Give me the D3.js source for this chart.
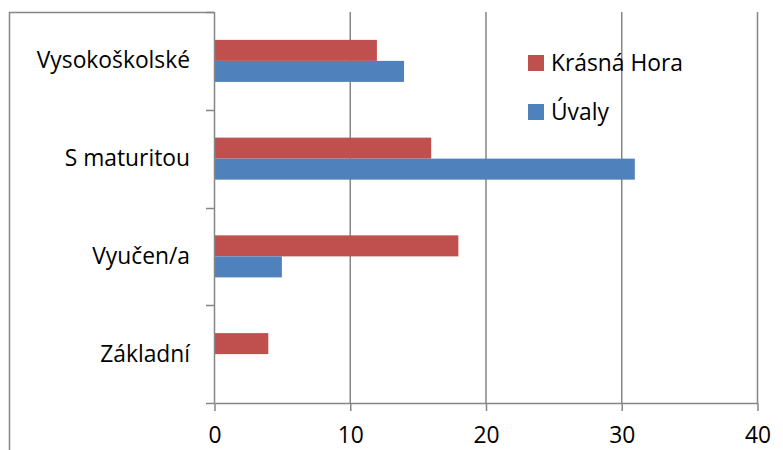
<!DOCTYPE html>
<html>
<head>
<meta charset="utf-8">
<script src="https://cdn.jsdelivr.net/npm/d3@7"></script>
<style>
  body { margin: 0; background: #fff; }
  text { font-family: "Open Sans", "Noto Sans", sans-serif; fill: #000; }
</style>
</head>
<body>
<div id="chart"></div>
<script>
// Data
const categories = ['Vysokoškolské', 'S maturitou', 'Vyučen/a', 'Základní']
const seriesNames = ['Krásná Hora', 'Úvaly']
const krasnaHora = [12, 16, 18, 4]
const uvaly = [14, 31, 5, 0]
const xTicks = [0, 10, 20, 30, 40]
const seriesColors = ['#C0504D', '#4F81BD']

function draw() {
  const dimensions = {
    width: 783,
    height: 450,
    left: 214,
    top: 12,
    right: 757,
    bottom: 403,
  }
  const fontSize = '22.8px'

  const svg = d3.select('#chart')
    .append('svg')
    .attr('width', dimensions.width)
    .attr('height', dimensions.height)

  // outer chart frame (only left + top part visible)
  svg.append('path')
    .attr('d', `M9.5,460 V12.5 H${dimensions.left}`)
    .attr('fill', 'none')
    .attr('stroke', '#868686')
    .attr('stroke-width', 1.5)

  // Scales
  const xScale = d3.scaleLinear()
    .domain([0, 40])
    .range([dimensions.left, dimensions.right])

  const yScale = d3.scaleBand()
    .domain(categories)
    .range([dimensions.top, dimensions.bottom])
    .paddingInner(0.57)
    .paddingOuter(0.285)

  const inner = d3.scaleBand()
    .domain(seriesNames)
    .range([0, yScale.bandwidth()])

  // gridlines
  svg.append('g')
    .selectAll('line')
    .data(xTicks.slice(1))
    .join('line')
    .attr('x1', d => xScale(d) + 0.5)
    .attr('x2', d => xScale(d) + 0.5)
    .attr('y1', dimensions.top)
    .attr('y2', dimensions.bottom)
    .attr('stroke', '#868686')
    .attr('stroke-width', 1.5)

  // bars
  const rows = categories.map((c, i) => ({ name: c, values: [krasnaHora[i], uvaly[i]] }))
  const groups = svg.append('g')
    .selectAll('g')
    .data(rows)
    .join('g')
    .attr('transform', d => `translate(0,${yScale(d.name)})`)

  groups.selectAll('rect')
    .data(d => d.values.map((v, j) => ({ series: seriesNames[j], value: v, color: seriesColors[j] })))
    .join('rect')
    .attr('x', xScale(0))
    .attr('y', d => inner(d.series))
    .attr('width', d => xScale(d.value) - xScale(0))
    .attr('height', inner.bandwidth())
    .attr('fill', d => d.color)

  // x axis
  const xAxis = d3.axisBottom(xScale)
    .tickValues(xTicks)
    .tickSize(8)
    .tickSizeOuter(0)
    .tickPadding(16)
  const xg = svg.append('g')
    .attr('transform', `translate(0.5,${dimensions.bottom})`)
    .call(xAxis)
  xg.select('.domain').attr('stroke', '#868686').attr('stroke-width', 1.5)
  xg.selectAll('.tick line').attr('stroke', '#868686').attr('stroke-width', 1.5)
  xg.selectAll('.tick text').style('font-size', fontSize).attr('fill', '#000')

  // y axis
  const yEdges = categories.map(c => yScale(c) - yScale.step() * yScale.paddingInner() / 2)
  yEdges.push(dimensions.bottom)
  const yg = svg.append('g')
  yg.append('line')
    .attr('x1', dimensions.left + 0.5)
    .attr('x2', dimensions.left + 0.5)
    .attr('y1', dimensions.top)
    .attr('y2', dimensions.bottom)
    .attr('stroke', '#868686')
    .attr('stroke-width', 1.5)
  yg.selectAll('.ytick')
    .data(yEdges)
    .join('line')
    .attr('class', 'ytick')
    .attr('x1', dimensions.left - 8)
    .attr('x2', dimensions.left)
    .attr('y1', d => Math.round(d) + 0.5)
    .attr('y2', d => Math.round(d) + 0.5)
    .attr('stroke', '#868686')
    .attr('stroke-width', 1.5)
  yg.selectAll('text')
    .data(categories)
    .join('text')
    .attr('x', dimensions.left - 24)
    .attr('y', d => yScale(d) + yScale.bandwidth() / 2 + 7.5)
    .attr('text-anchor', 'end')
    .style('font-size', fontSize)
    .text(d => d)

  // legend
  const legend = svg.append('g')
    .attr('transform', 'translate(528,55)')
  const items = legend.selectAll('g')
    .data(seriesNames)
    .join('g')
    .attr('transform', (d, i) => `translate(0,${i * 49})`)
  items.append('rect')
    .attr('width', 16)
    .attr('height', 16)
    .attr('fill', (d, i) => seriesColors[i])
  items.append('text')
    .attr('x', 23)
    .attr('y', 16)
    .style('font-size', fontSize)
    .text(d => d)
}

draw()
</script>
</body>
</html>
